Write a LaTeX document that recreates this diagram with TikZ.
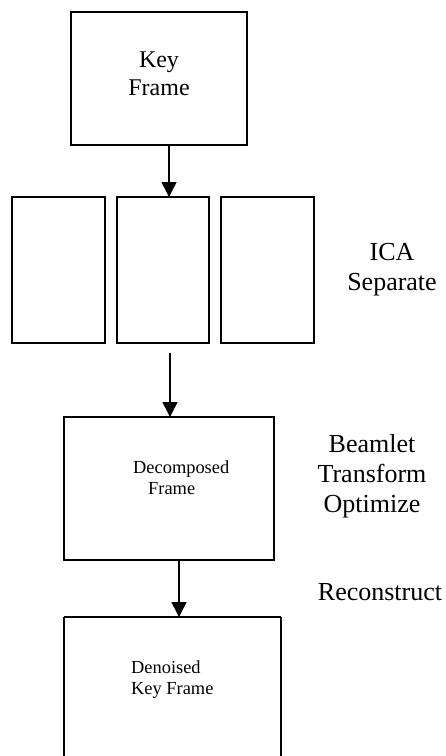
\documentclass[tikz,border=0pt]{standalone}
\usepackage{fontspec}
\setmainfont{Liberation Serif}
\usetikzlibrary{arrows.meta}
\begin{document}
\begin{tikzpicture}[x=1pt,y=-1pt,
  box/.style={draw=black,line width=1.7pt},
  flow/.style={draw=black,line width=1.5pt,-{Triangle[length=15pt,width=15pt]}},
  big/.style={font=\fontsize{24}{28}\selectfont,align=center},
  side/.style={font=\fontsize{26}{30}\selectfont,align=center},
  small/.style={font=\fontsize{18.4}{21}\selectfont,inner sep=0pt}]
\useasboundingbox (0,0) rectangle (446,756);
% key frame
\draw[box] (71,12) rectangle (247,145);
\node[big] (kf) at (159,74) {Key\\Frame};
\coordinate (kfb) at (169,145);
% three ICA components
\draw[box] (12,197) rectangle (105,343);
\draw[box] (117,197) rectangle (209,343);
\draw[box] (221,197) rectangle (314,343);
\coordinate (c2t) at (169,197);
\coordinate (c2b) at (170,353);
\node[side] (ica) at (392,270) {ICA\\Separate};
% decomposed frame
\draw[box] (64,417) rectangle (274,560);
\coordinate (dft) at (170,417);
\coordinate (dfb) at (179,560);
\node[small,align=left,anchor=west] (df) at (133,478) {Decomposed\\\hspace*{15pt}Frame};
\node[side] (bto) at (372,476) {Beamlet\\Transform\\Optimize};
% denoised key frame
\draw[box] (64,617) -- (281,617);
\draw[box] (64,617) -- (64,760);
\draw[box] (281,617) -- (281,760);
\coordinate (dkt) at (179,617);
\node[small,align=left,anchor=west] (dk) at (131,680) {Denoised\\Key Frame};
\node[side] (rec) at (380,592) {Reconstruct};
% arrows
\draw[flow] (kfb) -- (c2t);
\draw[flow] (c2b) -- (dft);
\draw[flow] (dfb) -- (dkt);
\end{tikzpicture}
\end{document}
